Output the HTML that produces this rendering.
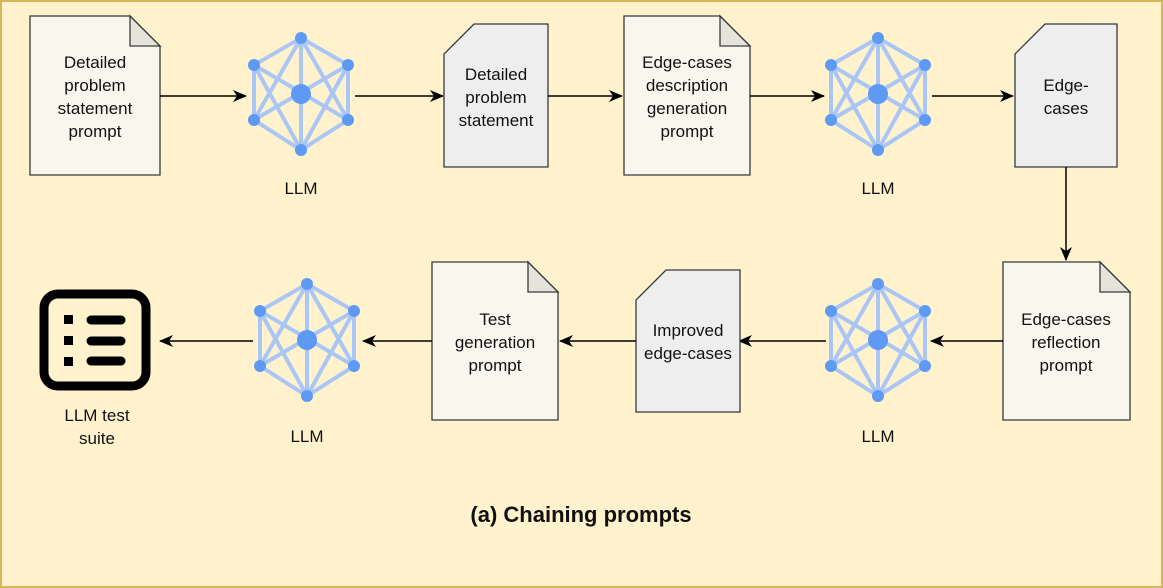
<!DOCTYPE html>
<html><head><meta charset="utf-8"><style>
html,body{margin:0;padding:0;background:#fff2cc}
svg{display:block}
text{font-family:"Liberation Sans",Arial,sans-serif;font-size:17px;fill:#111}
</style></head><body>
<svg width="1163" height="588" viewBox="0 0 1163 588" xmlns="http://www.w3.org/2000/svg">
<defs>
<marker id="ar" markerWidth="14" markerHeight="12" refX="13" refY="6" orient="auto" markerUnits="userSpaceOnUse">
<path d="M0,0 L14,6 L0,12 L4,6 Z" fill="#000"/>
</marker>
<g id="net">
<g stroke="#aac6f6" stroke-width="4" fill="none">
<polygon points="0,-56 47,-29 47,26 0,56 -47,26 -47,-29"/>
<line x1="0" y1="-56" x2="0" y2="56"/>
<line x1="-47" y1="-29" x2="47" y2="26"/>
<line x1="47" y1="-29" x2="-47" y2="26"/>
<line x1="0" y1="-56" x2="-47" y2="26"/>
<line x1="0" y1="-56" x2="47" y2="26"/>
<line x1="0" y1="56" x2="-47" y2="-29"/>
<line x1="0" y1="56" x2="47" y2="-29"/>
</g>
<g fill="#5e9af3">
<circle cx="0" cy="0" r="10"/>
<circle cx="0" cy="-56" r="6"/><circle cx="0" cy="56" r="6"/>
<circle cx="47" cy="-29" r="6"/><circle cx="47" cy="26" r="6"/>
<circle cx="-47" cy="-29" r="6"/><circle cx="-47" cy="26" r="6"/>
</g>
</g>
</defs>
<rect x="1" y="1" width="1161" height="586" fill="#fff2cc" stroke="#d6b656" stroke-width="2"/>

<path d="M30,16 H130 L160,46 V175 H30 Z" fill="#f9f7ed" stroke="#36393d" stroke-width="1.3"/>
<path d="M130,16 V46 H160 Z" fill="#e6e4da" stroke="#36393d" stroke-width="1.3"/>
<text x="95" y="68" text-anchor="middle">Detailed</text>
<text x="95" y="91" text-anchor="middle">problem</text>
<text x="95" y="114" text-anchor="middle">statement</text>
<text x="95" y="137" text-anchor="middle">prompt</text>

<line x1="160" y1="96" x2="246" y2="96" stroke="#000" stroke-width="1.5" marker-end="url(#ar)"/>
<use href="#net" x="301" y="94"/>
<text x="301" y="194" text-anchor="middle">LLM</text>
<line x1="355" y1="96" x2="443" y2="96" stroke="#000" stroke-width="1.5" marker-end="url(#ar)"/>

<path d="M474,24 H548 V167 H444 V54 Z" fill="#eeeeee" stroke="#36393d" stroke-width="1.3"/>
<text x="496" y="80" text-anchor="middle">Detailed</text>
<text x="496" y="103" text-anchor="middle">problem</text>
<text x="496" y="126" text-anchor="middle">statement</text>

<line x1="548" y1="96" x2="622" y2="96" stroke="#000" stroke-width="1.5" marker-end="url(#ar)"/>

<path d="M624,16 H720 L750,46 V175 H624 Z" fill="#f9f7ed" stroke="#36393d" stroke-width="1.3"/>
<path d="M720,16 V46 H750 Z" fill="#e6e4da" stroke="#36393d" stroke-width="1.3"/>
<text x="687" y="68" text-anchor="middle">Edge-cases</text>
<text x="687" y="91" text-anchor="middle">description</text>
<text x="687" y="114" text-anchor="middle">generation</text>
<text x="687" y="137" text-anchor="middle">prompt</text>

<line x1="750" y1="96" x2="824" y2="96" stroke="#000" stroke-width="1.5" marker-end="url(#ar)"/>
<use href="#net" x="878" y="94"/>
<text x="878" y="194" text-anchor="middle">LLM</text>
<line x1="932" y1="96" x2="1013" y2="96" stroke="#000" stroke-width="1.5" marker-end="url(#ar)"/>

<path d="M1045,24 H1117 V167 H1015 V54 Z" fill="#eeeeee" stroke="#36393d" stroke-width="1.3"/>
<text x="1066" y="91" text-anchor="middle">Edge-</text>
<text x="1066" y="114" text-anchor="middle">cases</text>

<line x1="1066" y1="167" x2="1066" y2="260" stroke="#000" stroke-width="1.5" marker-end="url(#ar)"/>

<path d="M1003,262 H1100 L1130,292 V420 H1003 Z" fill="#f9f7ed" stroke="#36393d" stroke-width="1.3"/>
<path d="M1100,262 V292 H1130 Z" fill="#e6e4da" stroke="#36393d" stroke-width="1.3"/>
<text x="1066" y="325" text-anchor="middle">Edge-cases</text>
<text x="1066" y="348" text-anchor="middle">reflection</text>
<text x="1066" y="371" text-anchor="middle">prompt</text>

<line x1="1003" y1="341" x2="931" y2="341" stroke="#000" stroke-width="1.5" marker-end="url(#ar)"/>
<use href="#net" x="878" y="340"/>
<text x="878" y="442" text-anchor="middle">LLM</text>
<line x1="826" y1="341" x2="739" y2="341" stroke="#000" stroke-width="1.5" marker-end="url(#ar)"/>

<path d="M666,270 H740 V412 H636 V300 Z" fill="#eeeeee" stroke="#36393d" stroke-width="1.3"/>
<text x="688" y="336" text-anchor="middle">Improved</text>
<text x="688" y="359" text-anchor="middle">edge-cases</text>

<line x1="636" y1="341" x2="560" y2="341" stroke="#000" stroke-width="1.5" marker-end="url(#ar)"/>

<path d="M432,262 H528 L558,292 V420 H432 Z" fill="#f9f7ed" stroke="#36393d" stroke-width="1.3"/>
<path d="M528,262 V292 H558 Z" fill="#e6e4da" stroke="#36393d" stroke-width="1.3"/>
<text x="495" y="325" text-anchor="middle">Test</text>
<text x="495" y="348" text-anchor="middle">generation</text>
<text x="495" y="371" text-anchor="middle">prompt</text>

<line x1="432" y1="341" x2="363" y2="341" stroke="#000" stroke-width="1.5" marker-end="url(#ar)"/>
<use href="#net" x="307" y="340"/>
<text x="307" y="442" text-anchor="middle">LLM</text>
<line x1="253" y1="341" x2="160" y2="341" stroke="#000" stroke-width="1.5" marker-end="url(#ar)"/>

<rect x="44" y="294" width="102" height="92" rx="14" fill="none" stroke="#000" stroke-width="9"/>
<rect x="64" y="315" width="9" height="9" fill="#000"/>
<rect x="64" y="336" width="9" height="9" fill="#000"/>
<rect x="64" y="357" width="9" height="9" fill="#000"/>
<line x1="91" y1="320" x2="121" y2="320" stroke="#000" stroke-width="9" stroke-linecap="round"/>
<line x1="91" y1="341" x2="121" y2="341" stroke="#000" stroke-width="9" stroke-linecap="round"/>
<line x1="91" y1="361" x2="121" y2="361" stroke="#000" stroke-width="9" stroke-linecap="round"/>
<text x="97" y="421" text-anchor="middle">LLM test</text>
<text x="97" y="444" text-anchor="middle">suite</text>

<text x="581" y="522" text-anchor="middle" style="font-size:22px;font-weight:bold">(a) Chaining prompts</text>
</svg>
</body></html>
